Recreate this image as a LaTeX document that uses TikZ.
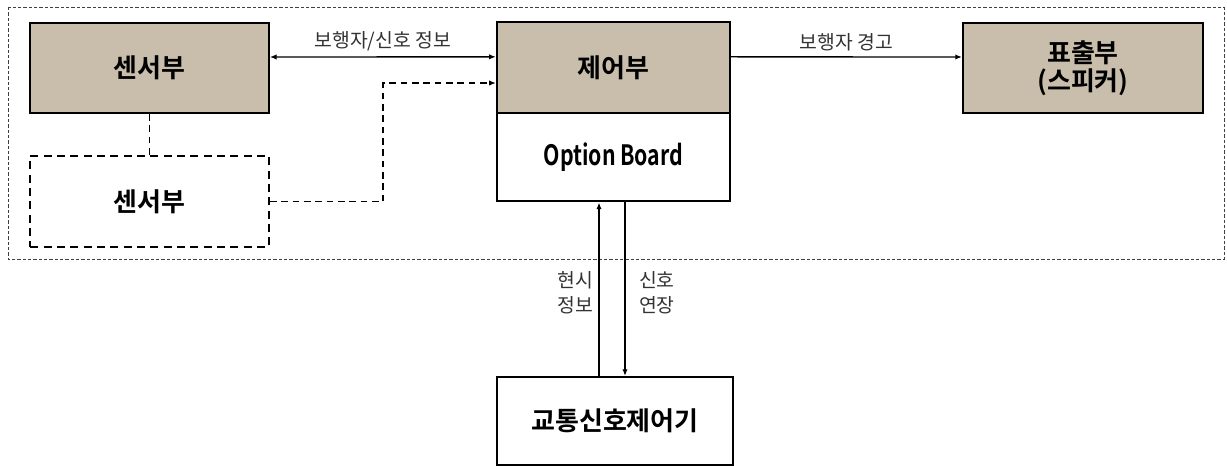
\documentclass[tikz,border=0pt]{standalone}
\usepackage{fontspec}
\setmainfont{Noto Sans CJK KR}
\newfontfamily\krb{Noto Sans CJK KR Bold}
\usetikzlibrary{arrows.meta,calc}
\definecolor{tan}{HTML}{C8BEAB}
\definecolor{lbl}{HTML}{333333}
\tikzset{
  box/.style={draw=black, line width=1.5pt, rectangle, inner sep=0pt, font=\krb\fontsize{19.5}{22}\selectfont, align=center},
  tanbox/.style={box, fill=tan},
  dbox/.style={box, dashed, dash pattern=on 6pt off 4pt},
  conn/.style={line width=1pt, -{Latex[length=5pt,width=4pt]}},
  dconn/.style={conn, dash pattern=on 5pt off 3.5pt},
  lab/.style={font=\fontsize{14.5}{19}\selectfont, text=lbl, align=center, inner sep=1pt},
}
\begin{document}
\begin{tikzpicture}[x=0.75pt,y=-0.75pt]
\useasboundingbox (0,0) rectangle (1227,466);
\draw[line width=0.6pt, dash pattern=on 2.5pt off 1.5pt, draw=black!75] (8,7) rectangle (1224,259);
\node[tanbox, minimum width=179pt, minimum height=67.5pt] (s1) at (149.5,68) {센서부};
\node[dbox, minimum width=179pt, minimum height=68pt] (s2) at (149.5,201.5) {센서부};
\node[tanbox, minimum width=175pt, minimum height=68pt] (ct) at (613.5,67.5) {제어부};
\node[box, minimum width=175pt, minimum height=66pt, font=\krb\fontsize{21}{24}\selectfont] (ob) at (613.5,157.5) {\scalebox{0.76}[1]{Option Board}};
\node[tanbox, minimum width=180pt, minimum height=67.5pt, font=\krb\fontsize{19.5}{21}\selectfont] (dp) at (1083,68) {표출부\\(스피커)};
\node[box, minimum width=177pt, minimum height=66pt] (tc) at (615,421) {교통신호제어기};
% connectors
\draw[conn, {Latex[length=5pt,width=4pt]}-{Latex[length=5pt,width=4pt]}] ([yshift=8.25pt]s1.east) -- ([yshift=8pt]ct.west) node[lab, midway, above=3pt] {보행자/신호 정보};
\draw[conn] ([yshift=8pt]ct.east) -- ([yshift=8.25pt]dp.west) node[lab, midway, above=3pt] {보행자 경고};
\draw[line width=1pt, dash pattern=on 5pt off 3.5pt] (s1.south) -- (s2.north);
\coordinate (b1) at (383,201.5);
\coordinate (b2) at (383,83);
\draw[dconn] (s2.east) -- (b1) -- (b2) -- (b2 -| ct.west);
\draw[conn] ([xshift=-12pt]tc.north) -- ([xshift=-12pt]tc.north |- ob.south) node[lab, pos=0.48, left=3pt] {현시\\정보};
\draw[conn] ([xshift=7.5pt]tc.north |- ob.south) -- ([xshift=7.5pt]tc.north) node[lab, pos=0.52, right=9pt] {신호\\연장};
\end{tikzpicture}
\end{document}
